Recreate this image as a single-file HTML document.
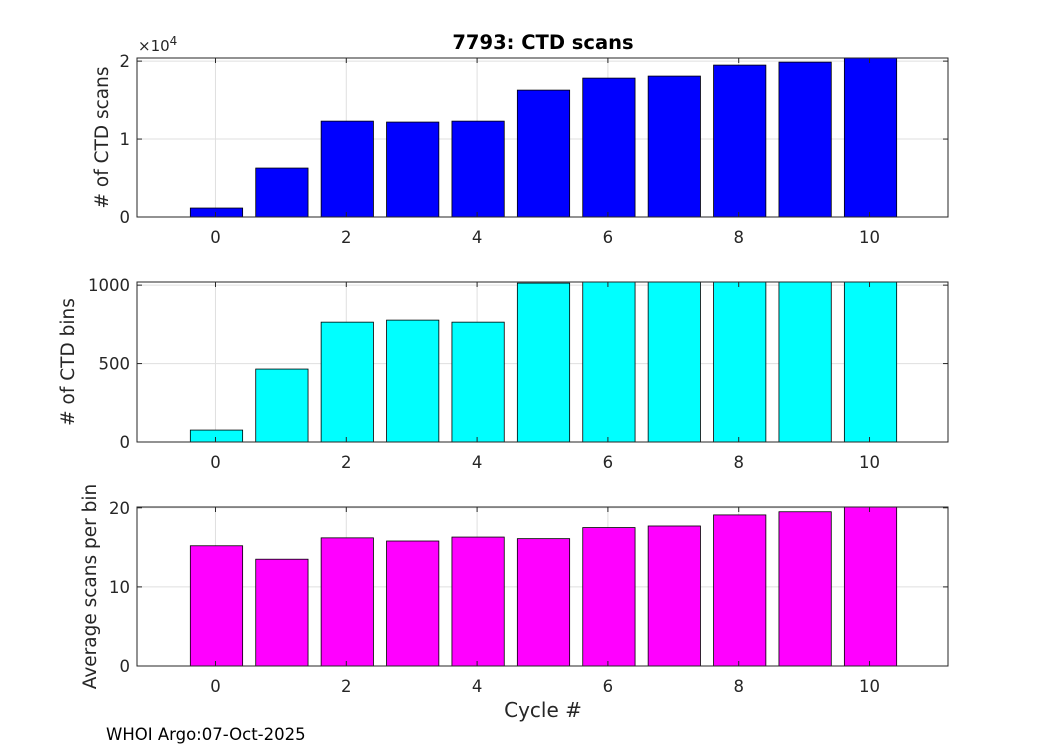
<!DOCTYPE html>
<html><head><meta charset="utf-8"><style>
body{margin:0;background:#fff;font-family:"DejaVu Sans","Liberation Sans",sans-serif}
svg text{fill:#262626}
</style></head><body>
<svg id="chart" width="1050" height="750" xmlns="http://www.w3.org/2000/svg" font-family="DejaVu Sans, Liberation Sans, sans-serif">
<text x="543" y="49" font-size="19.5" font-weight="bold" text-anchor="middle" style="fill:#000">7793: CTD scans</text>
<text x="543" y="717" font-size="20" text-anchor="middle">Cycle #</text>
<text x="106" y="740" font-size="16.5" style="fill:#000">WHOI Argo:07-Oct-2025</text>
</svg>
<script>
const cycles=[0,1,2,3,4,5,6,7,8,9,10];
const scans=[1150,6280,12300,12180,12300,16280,17820,18080,19490,19870,20640];
const bins=[76,465,764,777,764,1013,1025,1025,1025,1025,1025];
const avgScans=[15.2,13.5,16.2,15.8,16.3,16.1,17.5,17.7,19.1,19.5,20.4];
const xTicks=[0,2,4,6,8,10];
const scanTicks=[0,10000,20000];
const scanTickLabels=["0","1","2"];
const binTicks=[0,500,1000];
const binTickLabels=["0","500","1000"];
const avgTicks=[0,10,20];
const avgTickLabels=["0","10","20"];
const svg=document.getElementById('chart');
const NS='http://www.w3.org/2000/svg';
const L=137,R=948,xmin=-1.2,xmax=11.2;
const xs=v=>L+(v-xmin)/(xmax-xmin)*(R-L);
function mk(t,a){const e=document.createElementNS(NS,t);for(const k in a)e.setAttribute(k,a[k]);svg.appendChild(e);return e;}
function panel(name,top,bot,ymax,vals,color,ticks,labels,ylabel){
  const ys=v=>bot-(Math.min(v,ymax)/ymax)*(bot-top);
  const bg=mk('rect',{x:L,y:top,width:R-L,height:bot-top,fill:'#fff'});
  
  
  xTicks.forEach(t=>{const g=mk('line',{x1:xs(t),x2:xs(t),y1:top,y2:bot,stroke:'#dfdfdf','stroke-width':1});
    
    });
  ticks.forEach(t=>{const g=mk('line',{x1:L,x2:R,y1:ys(t),y2:ys(t),stroke:'#dfdfdf','stroke-width':1});
    
    });
  vals.forEach((v,i)=>{const c=cycles[i];const b=mk('rect',{x:xs(c-0.4)+1,y:ys(v),width:xs(c+0.4)-xs(c-0.4),height:bot-ys(v),fill:color,stroke:'#000','stroke-width':0.8});
    
    });
  const f=mk('rect',{x:L,y:top,width:R-L,height:bot-top,fill:'none',stroke:'#262626','stroke-width':1});
  
  
  xTicks.forEach(t=>{mk('line',{x1:xs(t),x2:xs(t),y1:bot,y2:bot-5,stroke:'#262626'});mk('line',{x1:xs(t),x2:xs(t),y1:top,y2:top+5,stroke:'#262626'});
    const tx=mk('text',{x:xs(t),y:bot+26,'font-size':16.5,'text-anchor':'middle'});tx.textContent=t;
    
    });
  ticks.forEach((t,i)=>{mk('line',{x1:L,x2:L+5,y1:ys(t),y2:ys(t),stroke:'#262626'});mk('line',{x1:R,x2:R-5,y1:ys(t),y2:ys(t),stroke:'#262626'});
    const tx=mk('text',{x:L-7,y:ys(t)+6,'font-size':16.5,'text-anchor':'end'});tx.textContent=labels[i];
    
    });
  const cy=(top+bot)/2;
  const yl=mk('text',{x:0,y:0,'font-size':18.5,'text-anchor':'middle',transform:`translate(${ylabel[1]},${cy}) rotate(-90)`});yl.textContent=ylabel[0];
  
  
}
panel('scans',58,217,20400,scans,'#0000ff',scanTicks,scanTickLabels,['# of CTD scans',108]);
panel('bins',282,442,1020,bins,'#00ffff',binTicks,binTickLabels,['# of CTD bins',74]);
panel('avg',507,666,20.1,avgScans,'#ff00ff',avgTicks,avgTickLabels,['Average scans per bin',96]);
const ex=mk('text',{x:138,y:51,'font-size':15,fill:'#555'});ex.innerHTML='×10<tspan dy="-6" font-size="12">4</tspan>';


</script>
</body></html>
